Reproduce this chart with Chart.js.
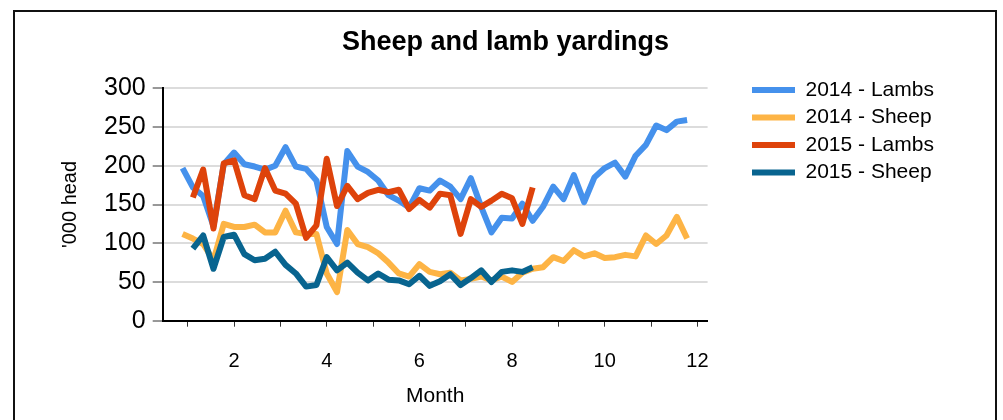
<!DOCTYPE html>
<html>
<head>
<meta charset="utf-8">
<script src="https://cdn.jsdelivr.net/npm/chart.js@4/dist/chart.umd.min.js"></script>
<style>
  html, body { margin: 0; padding: 0; background: #fff; }
  #wrap { width: 1003px; height: 420px; }
</style>
</head>
<body>
<div id="wrap"><canvas id="yardings" width="1003" height="420"></canvas></div>
<script>
// weekly yardings, x axis is in months (week / 4.5)
var weeks2014  = [4, 5, 6, 7, 8, 9, 10, 11, 12, 13, 14, 15, 16, 17, 18, 19, 20, 21, 22, 23, 24, 25, 26, 27, 28,
                  29, 30, 31, 32, 33, 34, 35, 36, 37, 38, 39, 40, 41, 42, 43, 44, 45, 46, 47, 48, 49, 50, 51, 52, 53];
var lambs2014  = [197, 172, 161, 122, 202, 217, 202, 199, 195, 200, 224, 199, 196, 181, 121, 99, 219, 199, 192, 181,
                  162, 155, 146, 171, 168, 181, 173, 157, 184, 147, 114, 133, 132, 151, 129, 147, 173, 157, 188, 153,
                  185, 197, 204, 186, 213, 227, 252, 246, 257, 259];
var sheep2014  = [112, 106, 99, 78, 125, 121, 121, 124, 114, 114, 142, 114, 112, 112, 61, 37, 117, 99, 95, 87,
                  75, 61, 57, 73, 63, 60, 62, 52, 54, 57, 52, 57, 50, 62, 67, 69, 82, 77, 91, 83,
                  87, 81, 82, 85, 83, 110, 99, 110, 134, 106];
var weeks2015  = [5, 6, 7, 8, 9, 10, 11, 12, 13, 14, 15, 16, 17, 18, 19, 20, 21, 22, 23, 24, 25, 26, 27, 28,
                  29, 30, 31, 32, 33, 34, 35, 36, 37, 38];
var lambs2015  = [159, 195, 119, 203, 207, 162, 157, 197, 168, 164, 151, 107, 123, 209, 148, 174, 157, 165, 169, 166,
                  169, 144, 156, 146, 164, 162, 112, 157, 147, 155, 164, 158, 125, 172];
var sheep2015  = [93, 110, 67, 108, 111, 86, 78, 80, 89, 72, 61, 44, 46, 82, 65, 75, 62, 52, 61, 53,
                  52, 47, 58, 45, 51, 60, 46, 55, 65, 50, 63, 65, 63, 69];
var seriesNames = ['2014 - Lambs', '2014 - Sheep', '2015 - Lambs', '2015 - Sheep'];
var monthTicks  = [2, 4, 6, 8, 10, 12];

function toPoints(weeks, values) {
    return weeks.map(function(w, i) { return {x: w / 4.5, y: values[i]}; });
}

function lineSet(label, weeks, values, color, order) {
    return {
        label: label,
        data: toPoints(weeks, values),
        borderColor: color,
        backgroundColor: color,
        borderWidth: 6,
        borderJoinStyle: 'round',
        borderCapStyle: 'butt',
        pointRadius: 0,
        tension: 0,
        order: order
    };
}

// outer frame round the whole picture
var frame = {
    id: 'frame',
    afterDraw: function(chart) {
        var ctx = chart.ctx;
        ctx.save();
        ctx.strokeStyle = '#111';
        ctx.lineWidth = 2;
        ctx.strokeRect(14, 11, 982, 430);
        ctx.restore();
    }
};

// put title and legend where the original has them
var placeBlocks = {
    id: 'placeBlocks',
    afterLayout: function(chart) {
        var lg = chart.legend;
        var dx = 745.5 - lg.left, dy = 73 - lg.top;
        lg.left += dx; lg.right += dx; lg.top += dy; lg.bottom += dy;
        var t = chart.titleBlock;
        var shift = 505.5 - (t.left + t.right) / 2;
        t.left += shift; t.right += shift;
    }
};

Chart.defaults.font.family = "'Liberation Sans', Arial, sans-serif";
Chart.defaults.color = '#000';

function loadChart() {
    var ctx = document.getElementById('yardings');
    new Chart(ctx, {
        type: 'line',
        data: {
            datasets: [
                lineSet(seriesNames[0], weeks2014, lambs2014, '#4591ec', 4),
                lineSet(seriesNames[1], weeks2014, sheep2014, '#fdb445', 3),
                lineSet(seriesNames[2], weeks2015, lambs2015, '#de430b', 2),
                lineSet(seriesNames[3], weeks2015, sheep2015, '#08648f', 1)
            ]
        },
        options: {
            responsive: false,
            animation: false,
            devicePixelRatio: 1,
            layout: { padding: { left: 46, right: 97, top: 0, bottom: 11.4 } },
            plugins: {
                title: {
                    display: true,
                    text: 'Sheep and lamb yardings',
                    font: { size: 27, weight: 'bold' },
                    color: '#000',
                    padding: { top: 26.2, bottom: 29.7 }
                },
                legend: {
                    position: 'right',
                    align: 'start',
                    fullSize: false,
                    labels: {
                        usePointStyle: true,
                        pointStyle: 'line',
                        pointStyleWidth: 43,
                        font: { size: 21 },
                        color: '#000',
                        padding: 6.5,
                        sort: function(a, b) { return a.datasetIndex - b.datasetIndex; }
                    }
                },
                tooltip: { enabled: false }
            },
            scales: {
                x: {
                    type: 'linear',
                    min: 0.46,
                    max: 12.22,
                    ticks: {
                        stepSize: 1,
                        includeBounds: false,
                        autoSkip: false,
                        maxRotation: 0,
                        font: { size: 20 },
                        color: '#000',
                        padding: 22.3,
                        callback: function(v) { return monthTicks.indexOf(v) >= 0 ? String(v) : ''; }
                    },
                    grid: { drawOnChartArea: false, tickLength: 6, tickColor: '#333', tickWidth: 1 },
                    border: { color: '#000', width: 2 },
                    title: { display: true, text: 'Month', font: { size: 21 }, color: '#000', padding: 0 },
                    afterFit: function(s) { s.height = 87.9; }
                },
                y: {
                    min: 0,
                    max: 300,
                    ticks: { stepSize: 50, font: { size: 25 }, color: '#000', padding: 7 },
                    grid: { color: '#dcdcdc', lineWidth: 2, tickLength: 10, tickColor: '#333', tickWidth: 1 },
                    border: { color: '#000', width: 2 },
                    title: { display: true, text: "'000 head", font: { size: 20 }, color: '#000', padding: { top: 12, bottom: 0 } },
                    afterFit: function(s) { s.width = 116.7; }
                }
            }
        },
        plugins: [frame, placeBlocks]
    });
}

loadChart();
</script>
</body>
</html>
